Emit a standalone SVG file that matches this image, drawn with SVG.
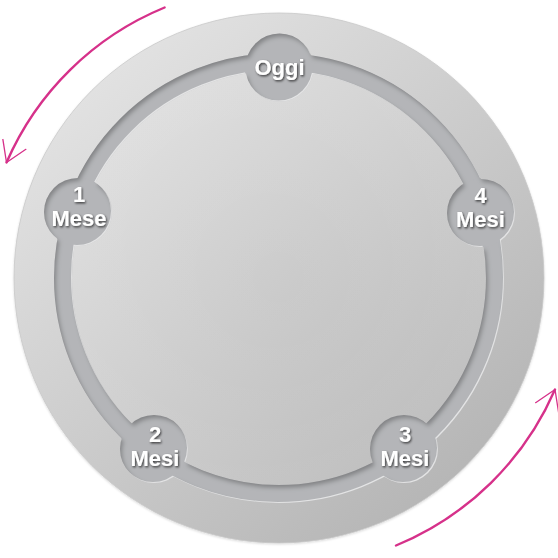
<svg xmlns="http://www.w3.org/2000/svg" width="558" height="558" viewBox="0 0 558 558">
  <defs>
    <linearGradient id="discGrad" gradientUnits="userSpaceOnUse" x1="90" y1="60" x2="470" y2="500">
      <stop offset="0" stop-color="#e3e3e3"/>
      <stop offset="1" stop-color="#b4b4b4"/>
    </linearGradient>
    <radialGradient id="innerGrad" gradientUnits="userSpaceOnUse" cx="279" cy="278" r="207">
      <stop offset="0" stop-color="#ffffff" stop-opacity="0"/>
      <stop offset="1" stop-color="#ffffff" stop-opacity="0.08"/>
    </radialGradient>
    <filter id="inset" x="-10%" y="-10%" width="120%" height="120%">
      <feComponentTransfer in="SourceAlpha" result="inv">
        <feFuncA type="table" tableValues="1 0"/>
      </feComponentTransfer>
      <feOffset in="inv" dx="2" dy="3" result="off"/>
      <feGaussianBlur in="off" stdDeviation="2" result="blur"/>
      <feFlood flood-color="#000" flood-opacity="0.5"/>
      <feComposite in2="blur" operator="in" result="sh"/>
      <feComposite in="sh" in2="SourceAlpha" operator="in" result="inner"/>
      <feOffset in="inv" dx="-1" dy="-1" result="off2"/>
      <feGaussianBlur in="off2" stdDeviation="0.6" result="blur2"/>
      <feFlood flood-color="#fff" flood-opacity="0.6"/>
      <feComposite in2="blur2" operator="in" result="hl"/>
      <feComposite in="hl" in2="SourceAlpha" operator="in" result="innerHl"/>
      <feMerge>
        <feMergeNode in="SourceGraphic"/>
        <feMergeNode in="innerHl"/>
        <feMergeNode in="inner"/>
      </feMerge>
    </filter>
    <filter id="txtShadow" x="-20%" y="-20%" width="140%" height="140%">
      <feDropShadow dx="1" dy="1.3" stdDeviation="0.9" flood-color="#000" flood-opacity="0.7"/>
    </filter>
    <filter id="discShadow" x="-5%" y="-5%" width="110%" height="110%">
      <feDropShadow dx="0" dy="1" stdDeviation="1" flood-color="#000" flood-opacity="0.15"/>
    </filter>
    <marker id="openArrow" viewBox="0 0 20 20" refX="18" refY="10" markerWidth="11" markerHeight="11" orient="auto" markerUnits="strokeWidth">
      <path d="M3,0.5 L18,10 L3,19.5" fill="none" stroke="#d6318a" stroke-width="1" stroke-linecap="round" stroke-linejoin="round"/>
    </marker>
  </defs>
  <style>
    .node { fill: #b4b5b8; }
    .ring { fill: none; stroke: #b4b5b8; stroke-width: 18; }
    .lbl { font-family: "Helvetica Neue", "Liberation Sans", Arial, sans-serif; font-weight: bold; font-size: 22px; fill: #ffffff; text-anchor: middle; }
    .arrow { fill: none; stroke: #d6318a; stroke-width: 2.4; stroke-linecap: round; marker-end: url(#openArrow); }
  </style>

  <g id="disc" filter="url(#discShadow)">
    <circle cx="279" cy="278" r="265" fill="url(#discGrad)" stroke="#c9c9c9" stroke-width="0.8"/>
    <circle cx="279" cy="278" r="207" fill="url(#innerGrad)"/>
  </g>

  <g id="groove" filter="url(#inset)">
    <g id="connectors">
      <circle class="ring" cx="279" cy="278" r="216"/>
    </g>
    <g id="node-oggi">
      <circle class="node" cx="279.5" cy="67.5" r="34"/>
      <text class="lbl" x="279.5" y="74.5" filter="url(#txtShadow)">Oggi</text>
    </g>
    <g id="node-1mese">
      <circle class="node" cx="78" cy="212" r="34"/>
      <text class="lbl" x="79" y="202" filter="url(#txtShadow)">1</text>
      <text class="lbl" x="79" y="225.5" filter="url(#txtShadow)">Mese</text>
    </g>
    <g id="node-4mesi">
      <circle class="node" cx="481" cy="213" r="34"/>
      <text class="lbl" x="480.5" y="203" filter="url(#txtShadow)">4</text>
      <text class="lbl" x="480.5" y="227" filter="url(#txtShadow)">Mesi</text>
    </g>
    <g id="node-2mesi">
      <circle class="node" cx="154" cy="449" r="34"/>
      <text class="lbl" x="155" y="442" filter="url(#txtShadow)">2</text>
      <text class="lbl" x="155" y="465.5" filter="url(#txtShadow)">Mesi</text>
    </g>
    <g id="node-3mesi">
      <circle class="node" cx="404" cy="449" r="34"/>
      <text class="lbl" x="405" y="442" filter="url(#txtShadow)">3</text>
      <text class="lbl" x="405" y="465.5" filter="url(#txtShadow)">Mesi</text>
    </g>
  </g>

  <g id="arrows">
    <path class="arrow" d="M164.6,7.5 A294,294 0 0 0 6.5,162.5"/>
    <path class="arrow" d="M396,545.5 A296,296 0 0 0 555,389.5"/>
  </g>
</svg>
